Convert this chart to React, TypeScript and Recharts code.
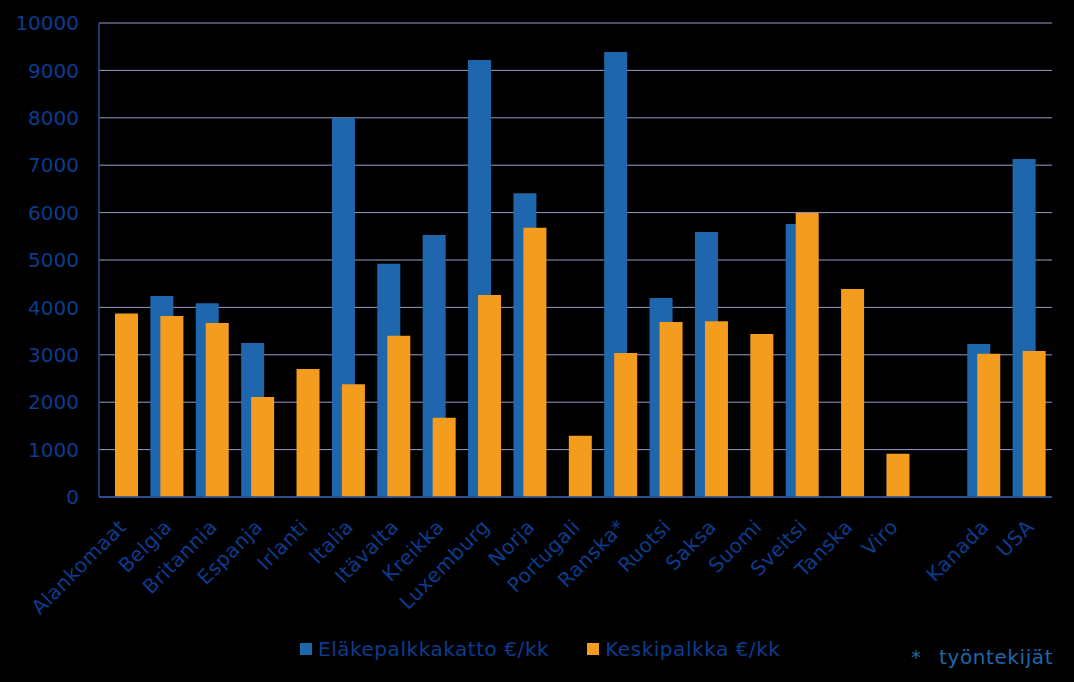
import React from 'react';
import { BarChart, Bar, XAxis, YAxis, CartesianGrid } from 'recharts';

const categories = ['Alankomaat', 'Belgia', 'Britannia', 'Espanja', 'Irlanti', 'Italia', 'Itävalta', 'Kreikka', 'Luxemburg', 'Norja', 'Portugali', 'Ranska*', 'Ruotsi', 'Saksa', 'Suomi', 'Sveitsi', 'Tanska', 'Viro', '', 'Kanada', 'USA'];
const elakepalkkakatto: (number | null)[] = [null, 4240, 4090, 3250, null, 8000, 4920, 5530, 9220, 6410, null, 9390, 4200, 5590, null, 5760, null, null, null, 3230, 7130];
const keskipalkka: (number | null)[] = [3870, 3820, 3670, 2110, 2700, 2380, 3400, 1670, 4260, 5680, 1290, 3040, 3690, 3710, 3440, 5990, 4390, 910, null, 3020, 3080];
const yTicks = [0, 1000, 2000, 3000, 4000, 5000, 6000, 7000, 8000, 9000, 10000];
const seriesNames = ['Eläkepalkkakatto €/kk', 'Keskipalkka €/kk'];
const footnoteMark = '*';
const footnoteText = 'työntekijät';

const data = categories.map((c, i) => ({ name: c, elake: elakepalkkakatto[i], keski: keskipalkka[i] }));

const FONT = '"DejaVu Sans", Verdana, sans-serif';
const TEXT = '#0b3c8e';
const BLUE = '#1f67ad';
const ORANGE = '#f39c1e';
const AXIS = '#1f4e99';

const XTick = (props: any) => {
  const { x, y, payload } = props;
  return (
    <g transform={`translate(${x + 6},${y + 23})`}>
      <text textAnchor="end" transform="rotate(-45)" fill={TEXT} fontSize={20} fontFamily={FONT} letterSpacing={0.5}>
        {payload.value}
      </text>
    </g>
  );
};

export default function App() {
  return (
    <div style={{ position: 'absolute', left: 0, top: 0, width: 1074, height: 682, background: '#000', fontFamily: FONT }}>
      <BarChart
        width={1074}
        height={682}
        data={data}
        margin={{ top: 23, right: 22, left: 1, bottom: 0 }}
        barSize={23}
        barGap={-13}
        barCategoryGap={0}
      >
        <CartesianGrid vertical={false} stroke="#9a9acc" strokeWidth={1} />
        <XAxis
          dataKey="name"
          interval={0}
          height={185}
          tickLine={false}
          axisLine={{ stroke: AXIS, strokeWidth: 1.5 }}
          tick={<XTick />}
        />
        <XAxis xAxisId="top" orientation="top" dataKey="name" height={0} tick={false} tickLine={false} axisLine={{ stroke: AXIS, strokeWidth: 1.5 }} />
        <YAxis
          domain={[0, 10000]}
          ticks={yTicks}
          width={98}
          tickLine={false}
          tickMargin={14}
          axisLine={{ stroke: AXIS, strokeWidth: 1.5 }}
          tick={{ fill: TEXT, fontSize: 20, fontFamily: FONT }}
          interval={0}
        />
        <YAxis yAxisId="right" orientation="right" domain={[0, 10000]} width={0} tick={false} tickLine={false} axisLine={{ stroke: AXIS, strokeWidth: 1.5 }} />
        <Bar dataKey="elake" name={seriesNames[0]} fill={BLUE} isAnimationActive={false} />
        <Bar dataKey="keski" name={seriesNames[1]} fill={ORANGE} isAnimationActive={false} />
      </BarChart>
      <div style={{ position: 'absolute', top: 637, left: 300, display: 'flex', alignItems: 'center', color: TEXT, fontSize: 20, whiteSpace: 'nowrap', letterSpacing: 0.55 }}>
        <span style={{ display: 'inline-block', width: 12, height: 12, background: BLUE, marginRight: 6 }} />
        <span>{seriesNames[0]}</span>
        <span style={{ display: 'inline-block', width: 12, height: 12, background: ORANGE, marginLeft: 38, marginRight: 6 }} />
        <span>{seriesNames[1]}</span>
      </div>
      <div style={{ position: 'absolute', top: 645, left: 911, color: BLUE, fontSize: 20, whiteSpace: 'pre' }}>{footnoteMark}</div>
      <div style={{ position: 'absolute', top: 645, left: 939, color: BLUE, fontSize: 20, whiteSpace: 'pre', letterSpacing: 0.6 }}>{footnoteText}</div>
    </div>
  );
}
